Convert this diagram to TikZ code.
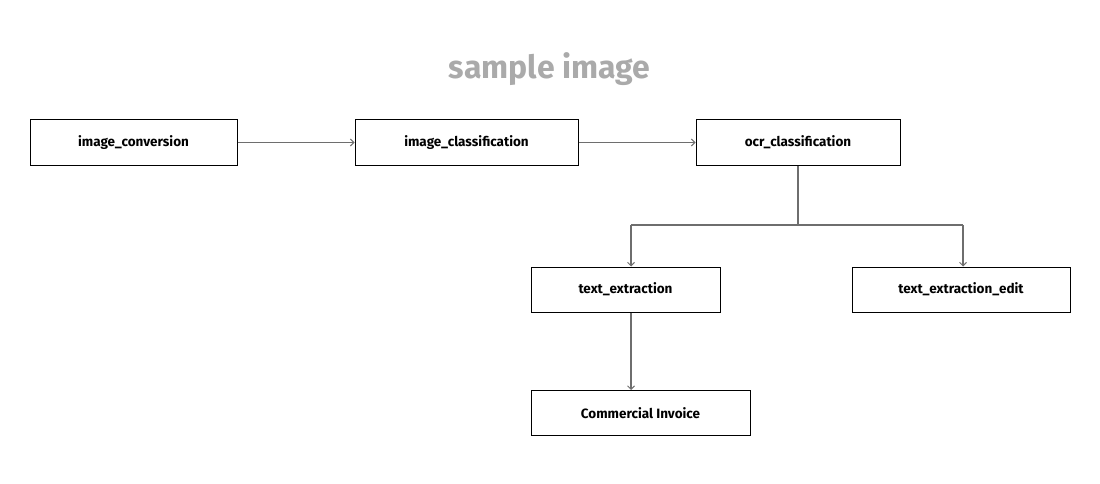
\documentclass[tikz,border=0pt]{standalone}
\usepackage{fontspec}
\setmainfont{Fira Sans}
\usetikzlibrary{arrows.meta,positioning}
\definecolor{edgegray}{HTML}{6E6E6E}
\definecolor{titlegray}{HTML}{AAAAAA}
\tikzset{
  stagebox/.style={draw=black, line width=1pt, minimum height=45pt, inner sep=0pt,
    font=\fontsize{13.5}{16}\selectfont\bfseries},
  flow/.style={draw=edgegray, line width=1.2pt, -{Straight Barb[length=3.5pt,width=7pt,line width=1pt]}},
  link/.style={draw=edgegray, line width=1.2pt}
}
\begin{document}
\begin{tikzpicture}[x=1pt, y=-1pt, line cap=butt, line join=miter]

  %% ════ title ════
  \node[text=titlegray, font=\fontsize{32}{38}\selectfont\bfseries] (title) at (549.5,69.0) {sample image};

  %% ════ boxes ════
  \node[stagebox, minimum width=207pt] (conv) at (133.5,142.5) {image\_conversion};
  \node[stagebox, minimum width=223pt] (cls)  at (466.5,142.5) {image\_classification};
  \node[stagebox, minimum width=204pt] (ocr)  at (798.0,142.5) {ocr\_classification};
  \node[stagebox, minimum width=189pt] (te)   at (625.5,289.5) {text\_extraction};
  \node[stagebox, minimum width=218pt] (tee)  at (961.0,289.5) {text\_extraction\_edit};
  \node[stagebox, minimum width=219pt] (ci)   at (640.5,413.0) {Commercial Invoice};

  %% ════ joints of the branch ════
  \coordinate (split) at (798,225);
  \coordinate (jl) at (631,225);
  \coordinate (jr) at (963,225);

  %% ════ connectors ════
  \draw[flow] (conv.east) -- (cls.west);
  \draw[flow] (cls.east) -- (ocr.west);
  \draw[link] (ocr.south) -- (split);
  \draw[link] (jl) -- (jr);
  \draw[flow] (jl) -- (jl |- te.north);
  \draw[flow] (jr) -- (jr |- tee.north);
  \draw[flow] (jl |- te.south) -- (jl |- ci.north);

  % fix the canvas
  \pgfresetboundingbox
  \path[use as bounding box] (0,0) rectangle (1100,484);
\end{tikzpicture}
\end{document}
